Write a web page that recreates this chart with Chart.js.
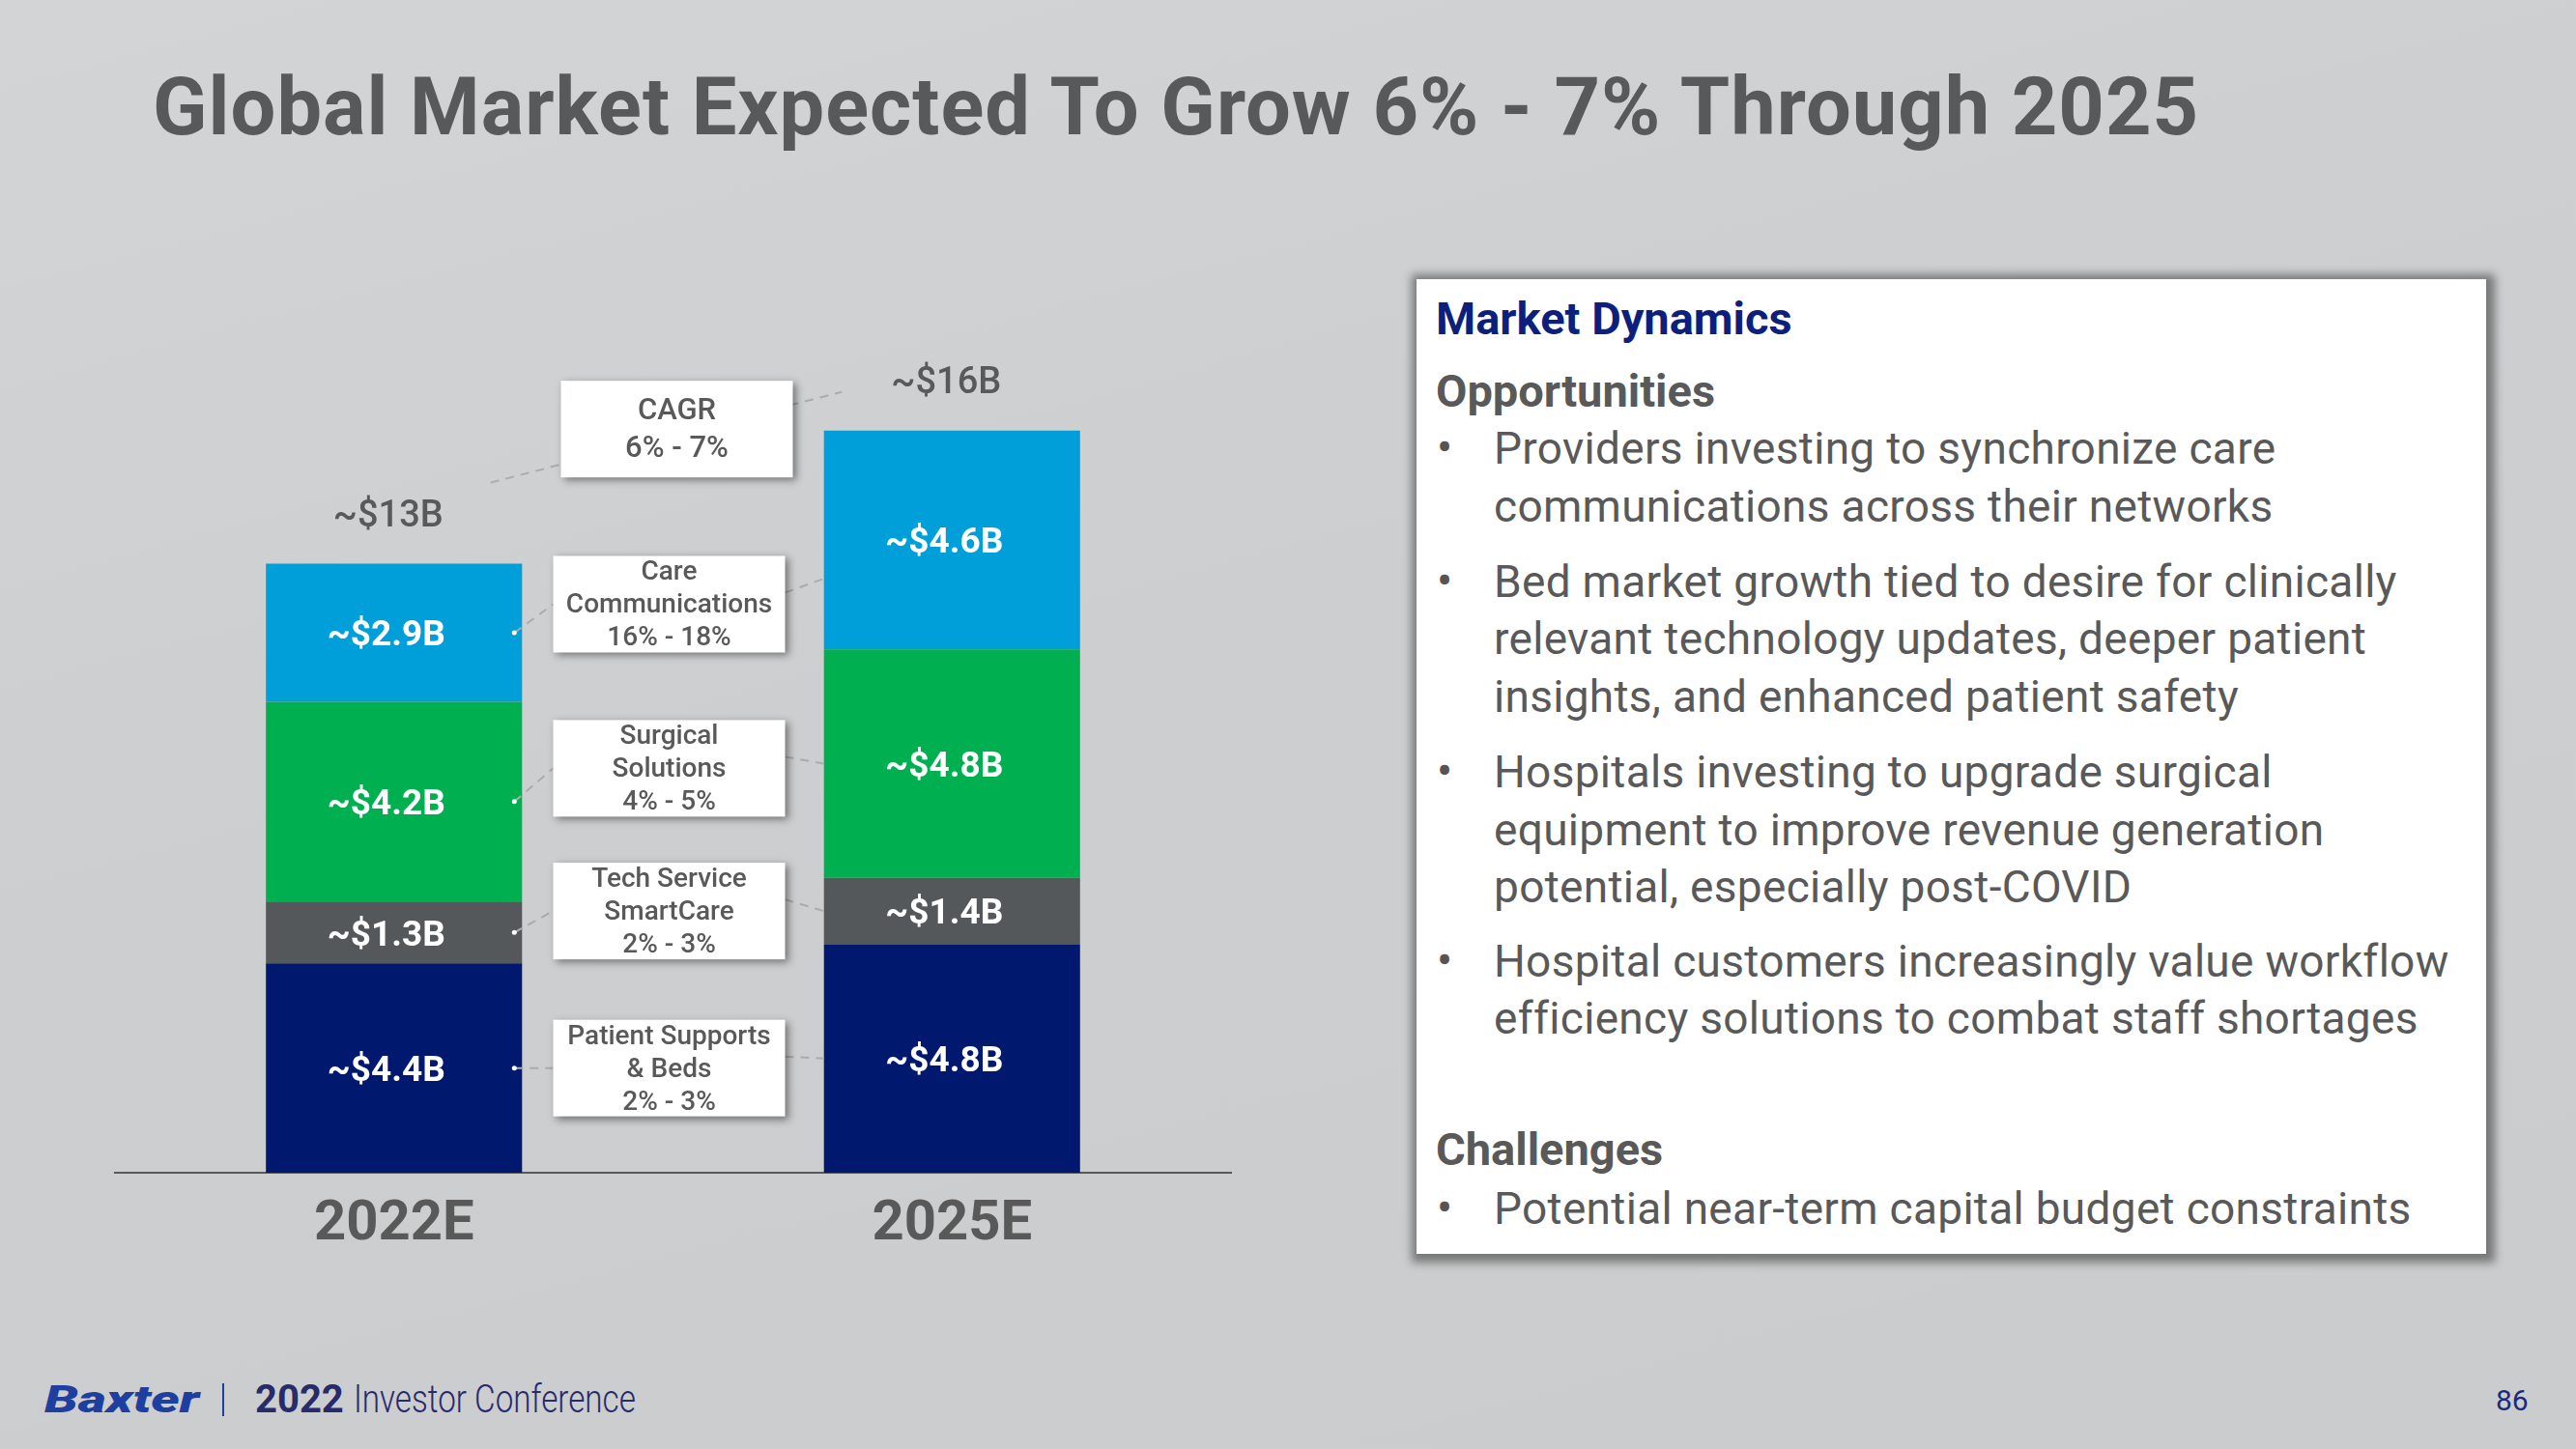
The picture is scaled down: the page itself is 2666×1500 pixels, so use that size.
<!DOCTYPE html>
<html>
<head>
<meta charset="utf-8">
<script src="https://cdn.jsdelivr.net/npm/chart.js@4.4.0/dist/chart.umd.min.js"></script>
<style>
  html, body { margin: 0; padding: 0; }
  body {
    width: 2666px; height: 1500px; position: relative; overflow: hidden;
    background: linear-gradient(165deg, #d3d4d5 0%, #cdcecf 45%, #cbcccd 100%);
    font-family: Roboto, "Liberation Sans", sans-serif;
    color: #595959;
  }
  .abs { position: absolute; white-space: nowrap; }
  #title { left: 158px; top: 69px; font-size: 83px; line-height: 83px; font-weight: 700; color: #58595b; letter-spacing: 1px; }
  #chartWrap { position: absolute; left: 0; top: 200px; width: 1400px; height: 1140px; }
  #panel {
    position: absolute; left: 1466px; top: 289px; width: 1107px; height: 1009px;
    background: #fff;
    box-shadow: 2px 2px 9px 7px rgba(0,0,0,0.42);
  }
  .ln { position: absolute; white-space: nowrap; height: 60px; line-height: 60px; font-size: 46px; letter-spacing: 0.3px; color: #595959; }
  .hd { font-size: 47px; font-weight: 700; letter-spacing: 0; }
  .bul { position: absolute; left: 1487px; font-size: 48px; color: #555; }
  #foot .abs { line-height: 50px; height: 50px; }
</style>
</head>
<body>
<div id="title" class="abs">Global Market Expected To Grow 6% - 7% Through 2025</div>

<div id="chartWrap"><canvas id="marketChart" width="1400" height="1140"></canvas></div>

<div id="panel"></div>
<div id="panelText"></div>

<div id="foot">
  <div class="abs" style="left:46px; top:1424px; font-size:38px; font-weight:900; font-style:italic; color:#1e3fa0; transform:scaleX(1.47); transform-origin:left center;">Baxter</div>
  <div class="abs" style="left:230px; top:1432px; width:2px; height:34px; background:#1e3fa0;"></div>
  <div class="abs" style="left:264px; top:1424px; font-size:40px; font-weight:700; color:#272b6b;">2022</div>
  <div class="abs" style="left:366px; top:1424px; font-size:40px; font-weight:300; color:#272b6b; transform:scaleX(0.83); transform-origin:left center;">Investor Conference</div>
  <div class="abs" style="left:2583px; top:1425px; font-size:30px; color:#1b2a80;">86</div>
</div>

<script>
// data (values in $B)
const years = ["2022E", "2025E"];
const segments = ["Patient Supports & Beds", "Tech Service SmartCare", "Surgical Solutions", "Care Communications"];
const patientBeds = [4.4, 4.8];
const techService = [1.3, 1.4];
const surgical = [4.2, 4.8];
const careComms = [2.9, 4.6];
const segmentCagr = ["2% - 3%", "2% - 3%", "4% - 5%", "16% - 18%"];
const totalCagr = "6% - 7%";
// box captions (line breaks as on the slide)
const boxCaptions = [["Patient Supports", "& Beds"], ["Tech Service", "SmartCare"], ["Surgical", "Solutions"], ["Care", "Communications"]];

const colors = ["#00196e", "#55585a", "#00b050", "#009fda"];

// right-hand panel text
const panelLines = [
  { y: 330, text: "Market Dynamics", cls: "hd", color: "#0d1f7c" },
  { y: 405, text: "Opportunities", cls: "hd" },
  { y: 464, text: "Providers investing to synchronize care", bullet: true },
  { y: 524, text: "communications across their networks" },
  { y: 602, text: "Bed market growth tied to desire for clinically", bullet: true },
  { y: 661, text: "relevant technology updates, deeper patient" },
  { y: 721, text: "insights, and enhanced patient safety" },
  { y: 799, text: "Hospitals investing to upgrade surgical", bullet: true },
  { y: 859, text: "equipment to improve revenue generation" },
  { y: 918, text: "potential, especially post-COVID" },
  { y: 995, text: "Hospital customers increasingly value workflow", bullet: true },
  { y: 1054, text: "efficiency solutions to combat staff shortages" },
  { y: 1190, text: "Challenges", cls: "hd" },
  { y: 1251, text: "Potential near-term capital budget constraints", bullet: true }
];
const pt = document.getElementById("panelText");
panelLines.forEach(l => {
  const d = document.createElement("div");
  d.className = "ln " + (l.cls || "");
  d.style.top = (l.y - 30) + "px";
  d.style.left = (l.cls ? 1486 : 1546) + "px";
  if (l.color) d.style.color = l.color;
  d.textContent = l.text;
  pt.appendChild(d);
  if (l.bullet) {
    const b = document.createElement("div");
    b.className = "ln bul";
    b.style.top = (l.y - 30) + "px";
    b.textContent = "\u2022";
    pt.appendChild(b);
  }
});

const seriesValues = [patientBeds, techService, surgical, careComms];
const datasets = segments.map((name, i) => ({
  label: name,
  data: seriesValues[i],
  backgroundColor: colors[i],
  borderWidth: 0,
  stack: "m",
  barPercentage: 0.459,
  categoryPercentage: 1.0
}));

// layout of the chart area inside the canvas
const canvasH = 1140, axisY = 1012, tickSize = 58, tickPad = 12;

function drawBox(ctx, cx, cy, w, h, lines, size, gap) {
  ctx.save();
  ctx.shadowColor = "rgba(0,0,0,0.45)";
  ctx.shadowBlur = 8;
  ctx.shadowOffsetX = 3;
  ctx.shadowOffsetY = 3;
  ctx.fillStyle = "#fff";
  ctx.fillRect(cx - w / 2, cy - h / 2, w, h);
  ctx.restore();
  ctx.save();
  ctx.fillStyle = "#595959";
  ctx.font = "500 " + size + "px Roboto, sans-serif";
  ctx.textAlign = "center";
  ctx.textBaseline = "middle";
  const n = lines.length;
  lines.forEach((t, k) => ctx.fillText(t, cx, cy + 2 + (k - (n - 1) / 2) * gap));
  ctx.restore();
}

function dashed(ctx, x1, y1, x2, y2) {
  ctx.save();
  ctx.strokeStyle = "#a9abad";
  ctx.lineWidth = 2;
  ctx.setLineDash([9, 7]);
  ctx.beginPath();
  ctx.moveTo(x1, y1);
  ctx.lineTo(x2, y2);
  ctx.stroke();
  ctx.restore();
}

const annotations = {
  id: "annotations",
  afterDatasetsDraw(chart) {
    const ctx = chart.ctx;
    const y = chart.scales.y;
    const metas = segments.map((_, i) => chart.getDatasetMeta(i));
    const barL = metas[0].data[0], barR = metas[0].data[1];
    const halfW = barL.width / 2;

    // segment value labels
    ctx.save();
    ctx.fillStyle = "#fff";
    ctx.font = "700 37px Roboto, sans-serif";
    ctx.textAlign = "center";
    ctx.textBaseline = "middle";
    metas.forEach((m, i) => {
      m.data.forEach((bar, j) => {
        const mid = (bar.y + bar.base) / 2 + 4;
        ctx.fillText("~$" + seriesValues[i][j].toFixed(1) + "B", bar.x - 8, mid);
      });
    });
    ctx.restore();

    // totals above the bars
    const totals = years.map((_, j) => seriesValues.reduce((s, arr) => s + arr[j], 0));
    const topY = totals.map(t => y.getPixelForValue(t) - 48);
    ctx.save();
    ctx.fillStyle = "#595959";
    ctx.font = "500 38px Roboto, sans-serif";
    ctx.textAlign = "center";
    ctx.textBaseline = "middle";
    totals.forEach((t, j) => {
      const x = metas[0].data[j].x;
      ctx.fillText("~$" + Math.round(t) + "B", x - 6, topY[j]);
    });
    ctx.restore();

    // CAGR box between the totals
    const midX = (barL.x + barR.x) / 2;
    dashed(ctx, barL.x + 100, topY[0] - 36, barR.x - 114, topY[1] + 8);
    drawBox(ctx, midX + 4, y.getPixelForValue(15.63), 240, 100, ["CAGR", totalCagr], 31, 39);

    // segment boxes with connectors
    const boxVal = [2.2, 5.5, 8.5, 11.95];
    metas.forEach((m, i) => {
      const cy = y.getPixelForValue(boxVal[i]);
      const a = m.data[0], b = m.data[1];
      const bx = midX - 4;
      dashed(ctx, a.x + halfW - 8, (a.y + a.base) / 2, bx - 120, cy);
      dashed(ctx, bx + 120, cy - 12, b.x - halfW, (b.y + b.base) / 2 + (i === 3 ? 40 : 0));
      ctx.save();
      ctx.fillStyle = "#fff";
      ctx.beginPath();
      ctx.arc(a.x + halfW - 8, (a.y + a.base) / 2, 2.5, 0, Math.PI * 2);
      ctx.fill();
      ctx.restore();
      drawBox(ctx, bx, cy, 240, 100, boxCaptions[i].concat([segmentCagr[i]]), 28, 34);
    });
  }
};

new Chart(document.getElementById("marketChart"), {
  type: "bar",
  data: { labels: years, datasets: datasets },
  options: {
    responsive: false,
    devicePixelRatio: 1,
    animation: false,
    layout: {
      padding: {
        left: 119,
        right: 126,
        top: 29,
        bottom: canvasH - axisY - (tickSize * 1.2 + tickPad * 2) - 10
      }
    },
    plugins: { legend: { display: false }, tooltip: { enabled: false } },
    scales: {
      x: {
        stacked: true,
        grid: { display: false },
        border: { display: true, color: "#595959", width: 2 },
        ticks: { color: "#595959", font: { family: "Roboto", size: tickSize, weight: "700" }, padding: tickPad }
      },
      y: { stacked: true, display: false, min: 0, max: 20 }
    }
  },
  plugins: [annotations]
});
</script>
</body>
</html>
